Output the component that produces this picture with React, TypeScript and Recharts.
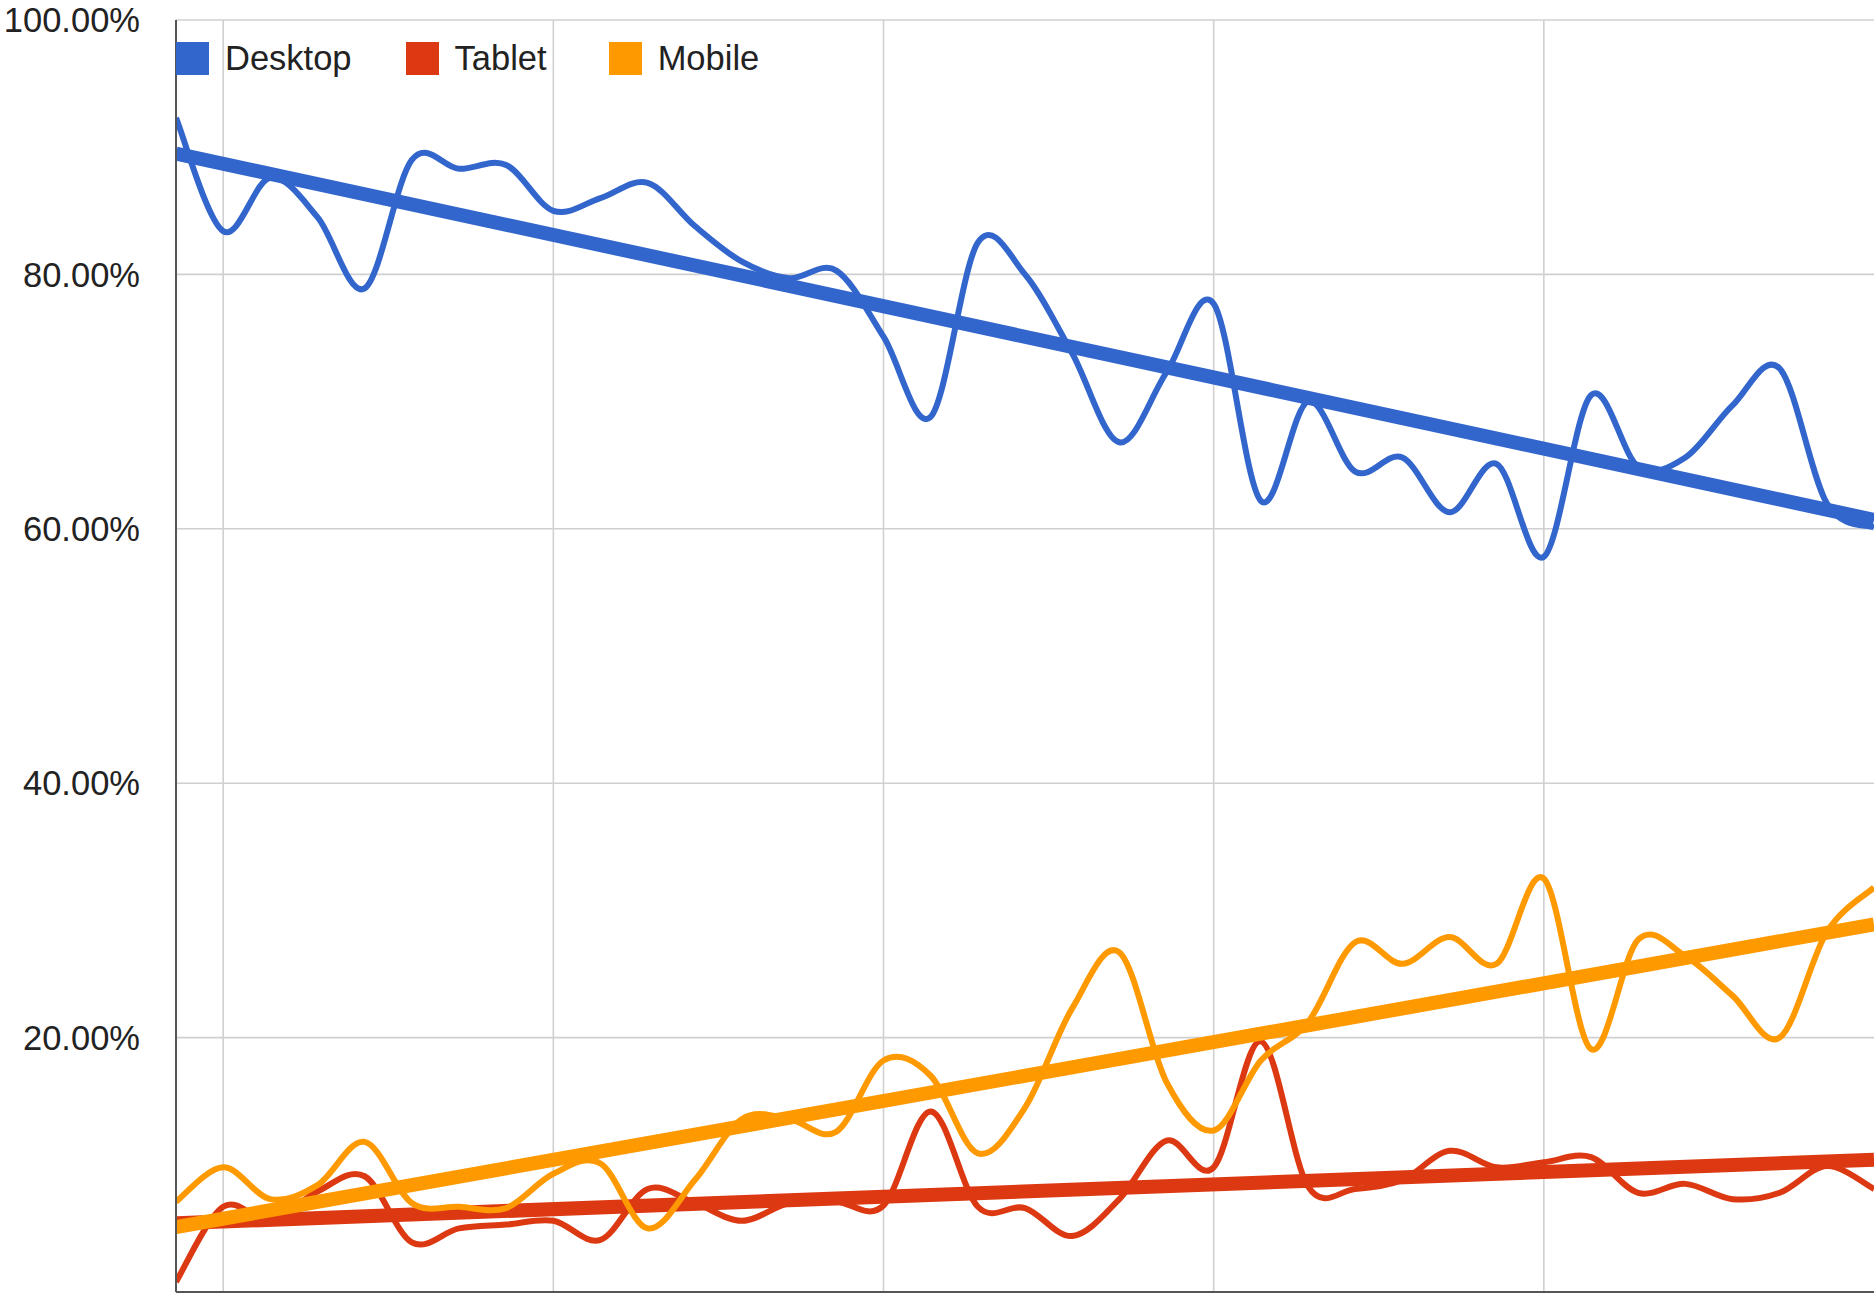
import React from "react";
import {
  ComposedChart,
  Line,
  XAxis,
  YAxis,
  CartesianGrid,
  ReferenceLine,
} from "recharts";

// share of traffic per period
const desktop = [
  92.3, 83.4, 87.6, 84.5, 78.9, 89.0, 88.3, 88.6, 85.0, 86.0, 87.2, 83.8, 81.0,
  79.7, 80.3, 75.1, 68.8, 82.5, 80.0, 73.8, 66.8, 72.3, 77.7, 62.2, 70.0, 64.5,
  65.6, 61.3, 65.1, 57.8, 70.5, 64.9, 65.6, 69.7, 72.6, 62.0, 60.1,
];
const tablet = [
  0.8, 6.7, 5.6, 7.9, 9.1, 3.9, 5.0, 5.3, 5.6, 4.1, 8.1, 7.0, 5.6, 7.0, 7.1,
  6.8, 14.2, 6.7, 6.6, 4.4, 7.3, 11.9, 9.8, 19.7, 8.3, 8.1, 8.8, 11.1, 9.8,
  10.2, 10.6, 7.8, 8.5, 7.3, 7.8, 9.9, 8.1,
];
const mobile = [
  7.1, 9.8, 7.3, 8.4, 11.8, 7.0, 6.7, 6.6, 9.3, 10.1, 5.0, 8.8, 13.6, 13.6,
  12.6, 18.2, 17.0, 10.9, 14.5, 22.3, 26.7, 16.5, 12.7, 18.2, 21.2, 27.5, 25.8,
  27.9, 25.8, 32.5, 19.1, 27.7, 26.4, 23.3, 20.0, 28.3, 31.8,
];

// trendline end values (first and last period)
const desktopTrend = [89.5, 60.7];
const tabletTrend = [5.4, 10.4];
const mobileTrend = [5.1, 28.9];

const yTicks = [0, 20, 40, 60, 80, 100];
const xGridTicks = [1, 8, 15, 22, 29];

const series = [
  { name: "Desktop", key: "desktop", color: "#3366cc", trend: desktopTrend, gap: 54 },
  { name: "Tablet", key: "tablet", color: "#dc3912", trend: tabletTrend, gap: 62 },
  { name: "Mobile", key: "mobile", color: "#ff9900", trend: mobileTrend, gap: 0 },
];

const lastIdx = desktop.length - 1;

const data = desktop.map((d, i) => ({
  i,
  desktop: d,
  tablet: tablet[i],
  mobile: mobile[i],
}));

// smooth curve through points, like google's curveType "function"
function smoothCurve(context: any) {
  let pts: number[][] = [];
  return {
    areaStart() {},
    areaEnd() {},
    lineStart() {
      pts = [];
    },
    point(x: number, y: number) {
      pts.push([+x, +y]);
    },
    lineEnd() {
      if (!pts.length) return;
      context.moveTo(pts[0][0], pts[0][1]);
      const t = 1 / 6;
      for (let k = 0; k < pts.length - 1; k++) {
        const p0 = pts[k - 1] || pts[k];
        const p1 = pts[k];
        const p2 = pts[k + 1];
        const p3 = pts[k + 2] || p2;
        context.bezierCurveTo(
          p1[0] + (p2[0] - p0[0]) * t,
          p1[1] + (p2[1] - p0[1]) * t,
          p2[0] - (p3[0] - p1[0]) * t,
          p2[1] - (p3[1] - p1[1]) * t,
          p2[0],
          p2[1],
        );
      }
    },
  };
}

const FONT = '"Liberation Sans", Arial, sans-serif';

export default function App() {
  return (
    <div
      style={{
        position: "absolute",
        left: 0,
        top: 0,
        width: 1874,
        height: 1311,
        overflow: "hidden",
        background: "#fff",
        fontFamily: FONT,
      }}
    >
      <ComposedChart
        width={1874}
        height={1311}
        data={data}
        margin={{ top: 20, right: 0, bottom: 0, left: 0 }}
      >
        <CartesianGrid stroke="#d0d0d0" strokeWidth={1.6} vertical={false} />
        {xGridTicks.map((t) => (
          <ReferenceLine
            key={"g" + t}
            x={t}
            stroke="#d0d0d0"
            strokeWidth={1.6}
          />
        ))}
        <XAxis
          dataKey="i"
          type="number"
          domain={[0, lastIdx]}
          ticks={xGridTicks}
          tick={false}
          tickLine={false}
          height={19}
          axisLine={{ stroke: "#555", strokeWidth: 2 }}
          allowDataOverflow
        />
        <YAxis
          type="number"
          domain={[0, 100]}
          ticks={yTicks}
          width={176}
          tickSize={0}
          tickMargin={36}
          tickLine={false}
          axisLine={{ stroke: "#555", strokeWidth: 2 }}
          tickFormatter={(v: number) => `${v.toFixed(2)}%`}
          tick={{ fill: "#222", fontSize: 34.5, fontFamily: FONT }}
        />
        {series.map((s) => [
          <Line
            key={s.key}
            dataKey={s.key}
            type={smoothCurve as any}
            stroke={s.color}
            strokeWidth={6}
            dot={false}
            activeDot={false}
            isAnimationActive={false}
          />,
          <Line
            key={s.key + "-trend"}
            data={[
              { i: 0, v: s.trend[0] },
              { i: lastIdx, v: s.trend[1] },
            ]}
            dataKey="v"
            type="linear"
            stroke={s.color}
            strokeWidth={14}
            dot={false}
            activeDot={false}
            isAnimationActive={false}
          />,
        ])}
      </ComposedChart>

      <div
        style={{
          position: "absolute",
          left: 176,
          top: 42,
          display: "flex",
          alignItems: "center",
          fontSize: 34.5,
          color: "#222",
          lineHeight: "33px",
        }}
      >
        {series.map((s) => (
          <div
            key={s.key}
            style={{ display: "flex", alignItems: "center", marginRight: s.gap }}
          >
            <span
              style={{
                width: 33,
                height: 33,
                background: s.color,
                display: "inline-block",
                marginRight: 16,
              }}
            />
            <span>{s.name}</span>
          </div>
        ))}
      </div>
    </div>
  );
}
